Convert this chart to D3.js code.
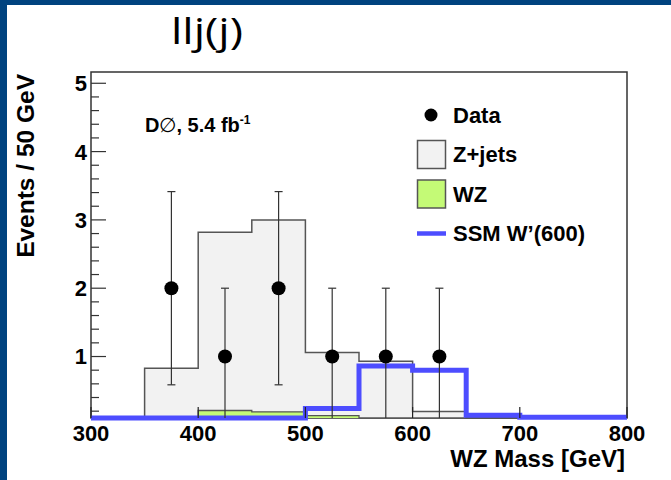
<!DOCTYPE html>
<html>
<head>
<meta charset="utf-8">
<script src="https://cdn.jsdelivr.net/npm/d3@7"></script>
<style>
  html, body { margin: 0; padding: 0; background: #fff; }
  svg { display: block; }
  text { font-family: "Liberation Sans", Arial, Helvetica, sans-serif; fill: #000; }
</style>
</head>
<body>
<svg id="chart" width="671" height="480"></svg>
<script>
// Bin edges of the WZ mass histogram (GeV)
const binEdges = [300, 350, 400, 450, 500, 550, 600, 650, 700, 750, 800];
// Stacked background totals per bin (Z+jets on top of WZ)
const zjetsStack = [0, 0.83, 2.82, 3.0, 1.06, 0.93, 0.195, 0, 0, 0];
// WZ contribution per bin
const wzValues = [0, 0, 0.21, 0.19, 0.135, 0, 0, 0, 0, 0];
// SSM W'(600) signal expectation per bin
const wprimeValues = [0.1, 0.1, 0.1, 0.1, 0.24, 0.86, 0.80, 0.14, 0.11, 0.11];
// Observed data: bin centres and event counts
const dataMass = [375, 425, 475, 525, 575, 625];
const dataCounts = [2, 1, 2, 1, 1, 1];
// Axis ticks
const xTicks = [300, 400, 500, 600, 700, 800];
const yTicks = [1, 2, 3, 4, 5];
const legendLabels = ["Data", "Z+jets", "WZ", "SSM W\u2019(600)"];

const svg = d3.select("#chart");
const yMin = 0.1, yMax = 5.165;
const x = d3.scaleLinear().domain([300, 800]).range([91, 627]);
const y = d3.scaleLinear().domain([yMin, yMax]).range([418, 72]);
const yc = v => y(Math.max(v, yMin));

// Slide frame
svg.append("rect").attr("x", 0).attr("y", 0).attr("width", 671).attr("height", 5).attr("fill", "#00437f");
svg.append("rect").attr("x", 0).attr("y", 0).attr("width", 7).attr("height", 480).attr("fill", "#00437f");

// Slide title
svg.append("text").attr("x", 171).attr("y", 44)
  .attr("textLength", 72).attr("lengthAdjust", "spacingAndGlyphs")
  .style("font-family", "'Open Sans', Lato, sans-serif")
  .style("font-weight", "400")
  .style("font-size", "37px").text("llj(j)");

// Plot frame
svg.append("rect").attr("x", x(300)).attr("y", y(yMax))
  .attr("width", x(800) - x(300)).attr("height", y(yMin) - y(yMax))
  .attr("fill", "none").attr("stroke", "#333").attr("stroke-width", 1.5);

// Step outline of a histogram
function stepPoints(values) {
  const pts = [];
  values.forEach((v, i) => {
    pts.push([binEdges[i], v]);
    pts.push([binEdges[i + 1], v]);
  });
  return pts;
}
const stepLine = d3.line().x(d => x(d[0])).y(d => yc(d[1]));
const stepArea = d3.area().x(d => x(d[0])).y0(y(yMin)).y1(d => yc(d[1]));

// Z+jets
svg.append("path").datum(stepPoints(zjetsStack)).attr("d", stepArea).attr("fill", "#f2f2f2");
svg.append("path").datum(stepPoints(zjetsStack)).attr("d", stepLine)
  .attr("fill", "none").attr("stroke", "#555").attr("stroke-width", 1.5);

// WZ
svg.append("path").datum(stepPoints(wzValues)).attr("d", stepArea).attr("fill", "#c4fa76");
svg.append("path").datum(stepPoints(wzValues)).attr("d", stepLine)
  .attr("fill", "none").attr("stroke", "#555").attr("stroke-width", 1.3);

// SSM W'(600)
svg.append("path").datum(stepPoints(wprimeValues)).attr("d", stepLine)
  .attr("fill", "none").attr("stroke", "#4d4dff").attr("stroke-width", 5);

// Y ticks (inside the frame)
const yMinor = d3.range(0.2, 5.01, 0.2).filter(v => Math.abs(v - Math.round(v)) > 1e-6);
svg.append("g").selectAll("line.minor").data(yMinor).join("line")
  .attr("x1", x(300)).attr("x2", x(300) + 8).attr("y1", d => y(d)).attr("y2", d => y(d))
  .attr("stroke", "#333").attr("stroke-width", 1.2);
svg.append("g").selectAll("line.major").data(yTicks).join("line")
  .attr("x1", x(300)).attr("x2", x(300) + 15).attr("y1", d => y(d)).attr("y2", d => y(d))
  .attr("stroke", "#333").attr("stroke-width", 1.2);
svg.append("g").selectAll("text").data(yTicks).join("text")
  .attr("x", 87).attr("y", d => y(d)).attr("dy", "0.36em").attr("text-anchor", "end")
  .style("font-size", "22px").style("font-weight", "bold").text(d => d);

// X ticks
svg.append("g").selectAll("line").data(xTicks).join("line")
  .attr("x1", d => x(d)).attr("x2", d => x(d)).attr("y1", y(yMin)).attr("y2", y(yMin) - 11)
  .attr("stroke", "#222").attr("stroke-width", 1.2);
svg.append("g").selectAll("text").data(xTicks).join("text")
  .attr("x", d => x(d)).attr("y", 441).attr("text-anchor", "middle")
  .style("font-size", "22px").style("font-weight", "bold").text(d => d);

// Axis titles
svg.append("text").attr("x", 625).attr("y", 467).attr("text-anchor", "end")
  .style("font-size", "24px").style("font-weight", "bold").text("WZ Mass [GeV]");
svg.append("text").attr("transform", "translate(34,74) rotate(-90)").attr("text-anchor", "end")
  .style("font-size", "24.5px").style("font-weight", "bold").text("Events / 50 GeV");

// Data points with statistical error bars
const dataG = svg.append("g");
dataMass.forEach((m, i) => {
  const n = dataCounts[i], e = Math.sqrt(n);
  const hi = n + e, lo = n - e;
  dataG.append("line").attr("x1", x(m)).attr("x2", x(m)).attr("y1", yc(lo)).attr("y2", y(hi))
    .attr("stroke", "#333").attr("stroke-width", 1.2);
  dataG.append("line").attr("x1", x(m) - 4).attr("x2", x(m) + 4).attr("y1", y(hi)).attr("y2", y(hi))
    .attr("stroke", "#333").attr("stroke-width", 1.2);
  if (lo > yMin) {
    dataG.append("line").attr("x1", x(m) - 4).attr("x2", x(m) + 4).attr("y1", y(lo)).attr("y2", y(lo))
      .attr("stroke", "#333").attr("stroke-width", 1.2);
  }
  dataG.append("circle").attr("cx", x(m)).attr("cy", y(n)).attr("r", 7).attr("fill", "#000");
});

// Experiment label
const lab = svg.append("text").attr("x", 145).attr("y", 132).style("font-size", "20px").style("font-weight", "bold");
lab.append("tspan").text("D");
lab.append("tspan").style("font-weight", "normal").text("\u2205");
lab.append("tspan").text(", 5.4 fb");
lab.append("tspan").attr("dy", -8).style("font-size", "12px").text("-1");

// Legend
const lg = svg.append("g");
const rowY = [115, 154.5, 194, 233.5];
lg.append("circle").attr("cx", 431).attr("cy", rowY[0]).attr("r", 6.5).attr("fill", "#000");
lg.append("rect").attr("x", 417.5).attr("y", rowY[1] - 14).attr("width", 28).attr("height", 28)
  .attr("fill", "#f2f2f2").attr("stroke", "#555").attr("stroke-width", 1.5);
lg.append("rect").attr("x", 417.5).attr("y", rowY[2] - 14).attr("width", 28).attr("height", 28)
  .attr("fill", "#c4fa76").attr("stroke", "#555").attr("stroke-width", 1.5);
lg.append("line").attr("x1", 417).attr("x2", 446).attr("y1", rowY[3]).attr("y2", rowY[3])
  .attr("stroke", "#4d4dff").attr("stroke-width", 4.5);
lg.selectAll("text").data(legendLabels).join("text")
  .attr("x", 453).attr("y", (d, i) => rowY[i]).attr("dy", "0.36em")
  .style("font-size", "22px").style("font-weight", "bold").text(d => d);
</script>
</body>
</html>
